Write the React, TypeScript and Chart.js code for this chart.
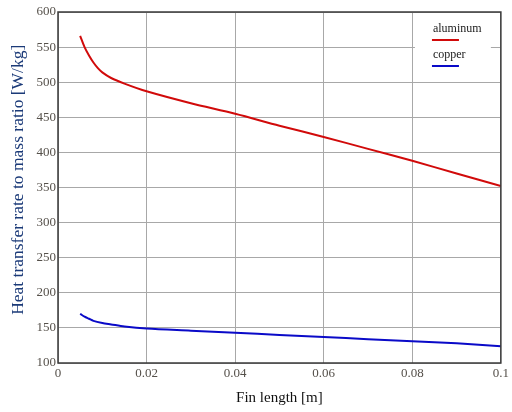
import React, { useEffect, useRef } from "react";
import { Chart, registerables } from "chart.js";

Chart.register(...registerables);

// Fin length [m]
const finLengthAl = [0.005, 0.006, 0.007, 0.008, 0.009, 0.01, 0.012, 0.015, 0.02, 0.03, 0.04, 0.05, 0.06, 0.07, 0.08, 0.09, 0.1];
const aluminum = [566, 550, 538, 528, 520, 514, 506, 498, 487, 470, 455, 438, 422, 405, 388, 370, 352];

const finLengthCu = [0.005, 0.006, 0.007, 0.008, 0.01, 0.012, 0.015, 0.02, 0.03, 0.04, 0.05, 0.06, 0.07, 0.08, 0.09, 0.1];
const copper = [170, 166, 163, 160, 157, 155, 152, 149, 146, 143, 140, 137, 134, 131, 128, 124];

const seriesNames = ["aluminum", "copper"];
const seriesColors = ["#d10a0a", "#0a0ac8"];
const yTitle = "Heat transfer rate to mass ratio [W/kg]";

const SERIF = "'Liberation Serif', 'DejaVu Serif', serif";

// Frame around the plot area, the boxed legend in the upper-right corner and the y title
const framePlugin = {
  id: "frameAndLegend",
  afterDatasetsDraw(chart: any) {
    const { ctx, chartArea } = chart;
    const { left, right, top, bottom } = chartArea;
    ctx.save();
    // legend box
    const bx = left + (right - left) * 0.806;
    ctx.fillStyle = "#ffffff";
    ctx.fillRect(bx, top + 1, right - bx - 10, 66);
    ctx.font = `12px ${SERIF}`;
    ctx.fillStyle = "#1a1a1a";
    ctx.textBaseline = "alphabetic";
    ctx.textAlign = "left";
    const tx = bx + 18;
    seriesNames.forEach((name, i) => {
      const y = top + 20 + i * 26;
      ctx.fillText(name, tx, y);
      ctx.strokeStyle = seriesColors[i];
      ctx.lineWidth = 2;
      ctx.beginPath();
      ctx.moveTo(tx - 1, y + 8);
      ctx.lineTo(tx + 26, y + 8);
      ctx.stroke();
    });
    // frame
    ctx.strokeStyle = "#3a3a3a";
    ctx.lineWidth = 1.5;
    ctx.strokeRect(left, top, right - left, bottom - top);
    // y axis title
    ctx.translate(18, top + (bottom - top) * 0.478);
    ctx.rotate(-Math.PI / 2);
    ctx.textAlign = "center";
    ctx.textBaseline = "middle";
    ctx.fillStyle = "#1b3a78";
    ctx.font = `17.5px ${SERIF}`;
    ctx.fillText(yTitle, 0, 0);
    ctx.restore();
  },
};

export default function App() {
  const ref = useRef<HTMLCanvasElement | null>(null);

  useEffect(() => {
    if (!ref.current) return;
    const chart = new Chart(ref.current, {
      type: "line",
      data: {
        datasets: [
          {
            label: seriesNames[0],
            data: finLengthAl.map((x, i) => ({ x, y: aluminum[i] })),
            borderColor: seriesColors[0],
            borderWidth: 2,
            pointRadius: 0,
            tension: 0.3,
          },
          {
            label: seriesNames[1],
            data: finLengthCu.map((x, i) => ({ x, y: copper[i] })),
            borderColor: seriesColors[1],
            borderWidth: 2,
            pointRadius: 0,
            tension: 0.3,
          },
        ],
      },
      options: {
        responsive: false,
        animation: false,
        layout: { padding: { top: 12, right: 9, left: 0, bottom: 0 } },
        plugins: { legend: { display: false }, tooltip: { enabled: false } },
        scales: {
          x: {
            type: "linear",
            min: 0,
            max: 0.1,
            ticks: {
              stepSize: 0.02,
              color: "#55504a",
              font: { family: SERIF, size: 13 },
              padding: 3,
              maxRotation: 0,
              callback: (v: any) => String(Math.round(Number(v) * 100) / 100),
            },
            grid: { color: "#a8a8a8", lineWidth: 1, drawTicks: false },
            border: { display: false },
            title: {
              display: true,
              text: "Fin length [m]",
              color: "#111111",
              font: { family: SERIF, size: 15 },
              padding: { top: 4, bottom: 5 },
            },
            afterFit: (s: any) => {
              s.height = 49;
            },
          },
          y: {
            type: "linear",
            min: 100,
            max: 600,
            ticks: {
              stepSize: 50,
              color: "#55504a",
              font: { family: SERIF, size: 13 },
              padding: 2,
            },
            grid: { color: "#a8a8a8", lineWidth: 1, drawTicks: false },
            border: { display: false },
            afterFit: (s: any) => {
              s.width = 58;
            },
          },
        },
      },
      plugins: [framePlugin],
    });
    return () => chart.destroy();
  }, []);

  return (
    <div style={{ position: "fixed", left: 0, top: 0, width: 512, height: 412, background: "#fff" }}>
      <canvas ref={ref} width={512} height={412} />
    </div>
  );
}
